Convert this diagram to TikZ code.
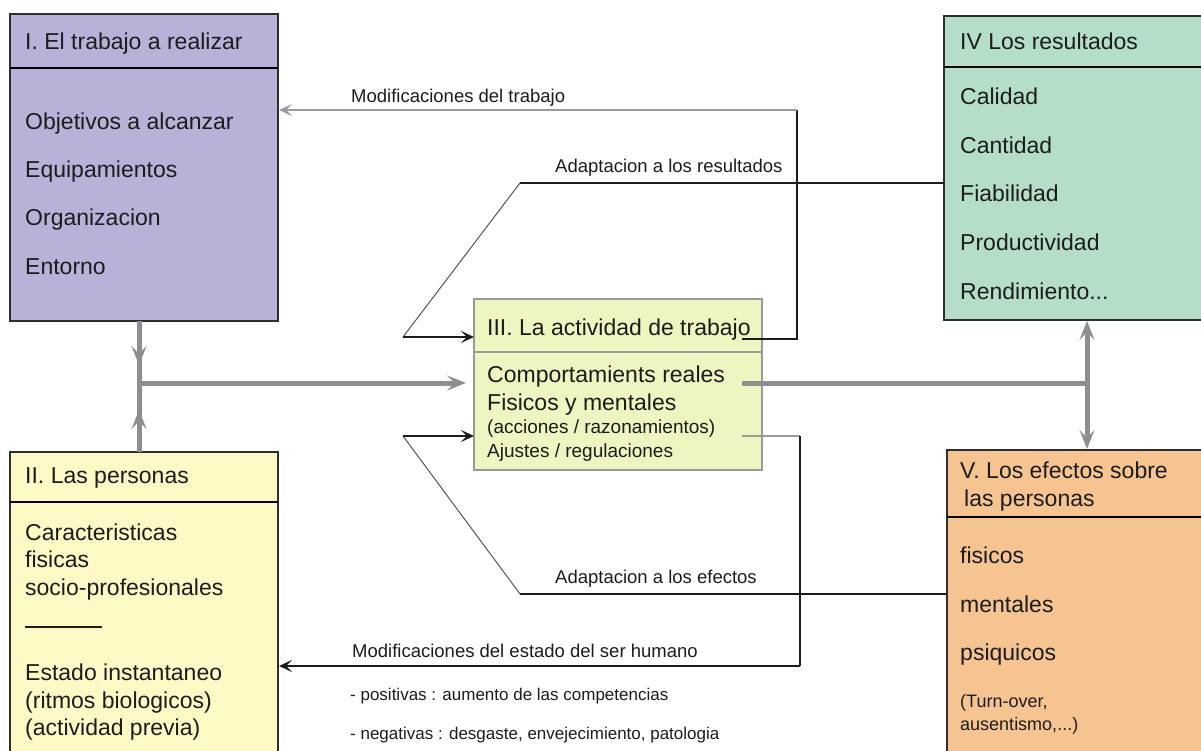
\documentclass[tikz,border=0pt]{standalone}
\usepackage{fontspec}
\setmainfont{Liberation Sans}
\usetikzlibrary{arrows.meta,calc}

\definecolor{workfill}{HTML}{B8B2D8}
\definecolor{resfill}{HTML}{B5DEC9}
\definecolor{persfill}{HTML}{FFF9C6}
\definecolor{actfill}{HTML}{EEF5C0}
\definecolor{efffill}{HTML}{F5C491}
\definecolor{flowgray}{HTML}{8E8E8E}
\definecolor{ink}{HTML}{1C1C1C}
\definecolor{boxline}{HTML}{2E2E2E}
\definecolor{actline}{HTML}{9A9A9A}

\tikzset{
  box/.style={draw=boxline, line width=2pt, anchor=north west, inner sep=0pt, outer sep=0pt},
  actbox/.style={draw=actline, line width=2.5pt, anchor=north west, inner sep=0pt, outer sep=0pt, fill=actfill},
  big/.style={font=\fontsize{23}{27}\selectfont, anchor=base west, inner sep=0pt, text=ink},
  mid/.style={font=\fontsize{19}{22}\selectfont, anchor=base west, inner sep=0pt, text=ink},
  lbl/.style={font=\fontsize{18.5}{22}\selectfont, anchor=base west, inner sep=0pt, text=ink},
  note/.style={font=\fontsize{17}{20}\selectfont, anchor=base west, inner sep=0pt, text=ink},
  flow/.style={line width=5pt, draw=flowgray},
  flowtip/.style={-{Stealth[length=19pt,width=15pt,inset=8pt]}},
  link/.style={line width=2pt, draw=ink},
  linktip/.style={-{Stealth[length=13pt,width=12pt,inset=6pt]}},
  glink/.style={line width=2pt, draw=actline},
  glinktip/.style={-{Stealth[length=13pt,width=12pt,inset=6pt]}},
  diag/.style={line width=1pt, draw=ink!75},
  sep/.style={line width=2.5pt, draw=black}
}

\begin{document}
\begin{tikzpicture}[x=1pt,y=-1pt]
\path[use as bounding box] (0,0) rectangle (1201,751);
\clip (0,0) rectangle (1201,751);

% ---- I. work to be done
\node[box, fill=workfill, minimum width=268pt, minimum height=54pt] (Ihead) at (10,14) {};
\node[box, fill=workfill, minimum width=268pt, minimum height=253pt] (Ibody) at (10,68) {};
\draw[sep] (Ihead.south west) -- (Ihead.south east);
\node[big] (tIh) at (25,50) {I. El trabajo a realizar};
\foreach \t [count=\k] in {Objetivos a alcanzar, Equipamientos, Organizacion, Entorno}
  \node[big] (tI\k) at (25,82+48*\k) {\t};

% ---- IV. results
\node[box, fill=resfill, minimum width=280pt, minimum height=51pt] (IVhead) at (944,16) {};
\node[box, fill=resfill, minimum width=280pt, minimum height=253pt] (IVbody) at (944,67) {};
\draw[sep] (IVhead.south west) -- (IVhead.south east);
\node[big] (tIVh) at (960,50) {IV Los resultados};
\foreach \t [count=\k] in {Calidad, Cantidad, Fiabilidad, Productividad}
  \node[big] (tIV\k) at (960,56.5+48.5*\k) {\t};
\node[big] (tIV5) at (960,299) {Rendimiento...};

% ---- II. people
\node[box, fill=persfill, minimum width=268pt, minimum height=50pt] (IIhead) at (10,452) {};
\node[box, fill=persfill, minimum width=268pt, minimum height=280pt] (IIbody) at (10,502) {};
\draw[sep] (IIhead.south west) -- (IIhead.south east);
\node[big] (tIIh) at (25,483) {II. Las personas};
\node[big] (tII1) at (25,540) {Caracteristicas};
\node[big] (tII2) at (25,567) {fisicas};
\node[big] (tII3) at (25,595) {socio-profesionales};
\draw[line width=1.5pt, draw=ink] (25,627) -- (102,627);
\node[big] (tII4) at (25,680) {Estado instantaneo};
\node[big] (tII5) at (25,708) {(ritmos biologicos)};
\node[big] (tII6) at (25,735) {(actividad previa)};

% ---- V. effects on people
\node[box, fill=efffill, minimum width=280pt, minimum height=67pt] (Vhead) at (947,450) {};
\node[box, fill=efffill, minimum width=280pt, minimum height=270pt] (Vbody) at (947,517) {};
\draw[sep] (Vhead.south west) -- (Vhead.south east);
\node[big] (tVh1) at (960,478) {V. Los efectos sobre};
\node[big] (tVh2) at (964,506) {las personas};
\node[big] (tV1) at (960,563) {fisicos};
\node[big] (tV2) at (960,612) {mentales};
\node[big] (tV3) at (960,660) {psiquicos};
\node[mid, font=\fontsize{18}{21}\selectfont] (tV4) at (960,707) {(Turn-over,};
\node[mid, font=\fontsize{18}{21}\selectfont] (tV5) at (960,730) {ausentismo,...)};

% ---- III. work activity
\node[actbox, minimum width=288pt, minimum height=53pt] (IIIhead) at (474,299) {};
\node[actbox, minimum width=288pt, minimum height=118pt] (IIIbody) at (474,352) {};
\node[big] (tIIIh) at (487,335) {III. La actividad de trabajo};
\node[big] (tIII1) at (487,382) {Comportamients reales};
\node[big] (tIII2) at (487,410) {Fisicos y mentales};
\node[mid] (tIII3) at (487,433) {(acciones / razonamientos)};
\node[mid] (tIII4) at (487,457) {Ajustes / regulaciones};

% ---- main gray flows
\coordinate (jl) at (139,383);
\coordinate (jr) at (1087,383);
\coordinate (cs) at (742,383);
\draw[flow] (Ibody.south -| jl) -- (IIhead.north -| jl);
\draw[flow, flowtip] (Ibody.south -| jl) -- ($(jl)+(0,-18)$);
\draw[flow, flowtip] (IIhead.north -| jl) -- ($(jl)+(0,27)$);
\draw[flow, flowtip, shorten >=8pt] (jl) -- (jl -| IIIbody.west);
\draw[flow] (cs) -- (jr);
\draw[flow, flowtip, shorten >=1pt] (jr) -- (jr |- IVbody.south);
\draw[flow, flowtip, shorten >=1pt] (jr) -- (jr |- Vhead.north);

% ---- feedback: changes to the work
\coordinate (mw0) at (742,339);
\coordinate (mw1) at (797,339);
\coordinate (mw2) at (797,110);
\draw[link] (mw0) -- (mw1) -- (mw2);
\draw[glink, glinktip, shorten >=1pt] (mw2) -- (mw2 -| Ibody.east);
\node[lbl] (lmw) at (351,103) {Modificaciones del trabajo};

% ---- adaptation to the results
\coordinate (ar1) at (520,183);
\coordinate (ar2) at (403,337);
\draw[link] (ar1 -| IVbody.west) -- (ar1);
\draw[diag] (ar1) -- (ar2);
\draw[link, linktip] (ar2) -- (ar2 -| IIIhead.west);
\node[lbl] (lar) at (555,173) {Adaptacion a los resultados};

% ---- adaptation to the effects
\coordinate (ae1) at (520,594);
\coordinate (ae2) at (403,436);
\draw[link] (ae1 -| Vbody.west) -- (ae1);
\draw[diag] (ae1) -- (ae2);
\draw[link, linktip] (ae2) -- (ae2 -| IIIbody.west);
\node[lbl] (lae) at (555,583) {Adaptacion a los efectos};

% ---- changes to the human state
\coordinate (mh0) at (742,436);
\coordinate (mh1) at (800,436);
\coordinate (mh2) at (800,666);
\draw[glink] (mh0) -- (mh1);
\draw[link] (mh1) -- (mh2);
\draw[link, linktip, shorten >=1pt] (mh2) -- (mh2 -| IIbody.east);
\node[lbl] (lmh) at (352,657) {Modificaciones del estado del ser humano};
\node[note] (lpos) at (350,700) {- positivas : aumento de las competencias};
\node[note] (lneg) at (350,739) {- negativas : desgaste, envejecimiento, patologia};
\end{tikzpicture}
\end{document}
